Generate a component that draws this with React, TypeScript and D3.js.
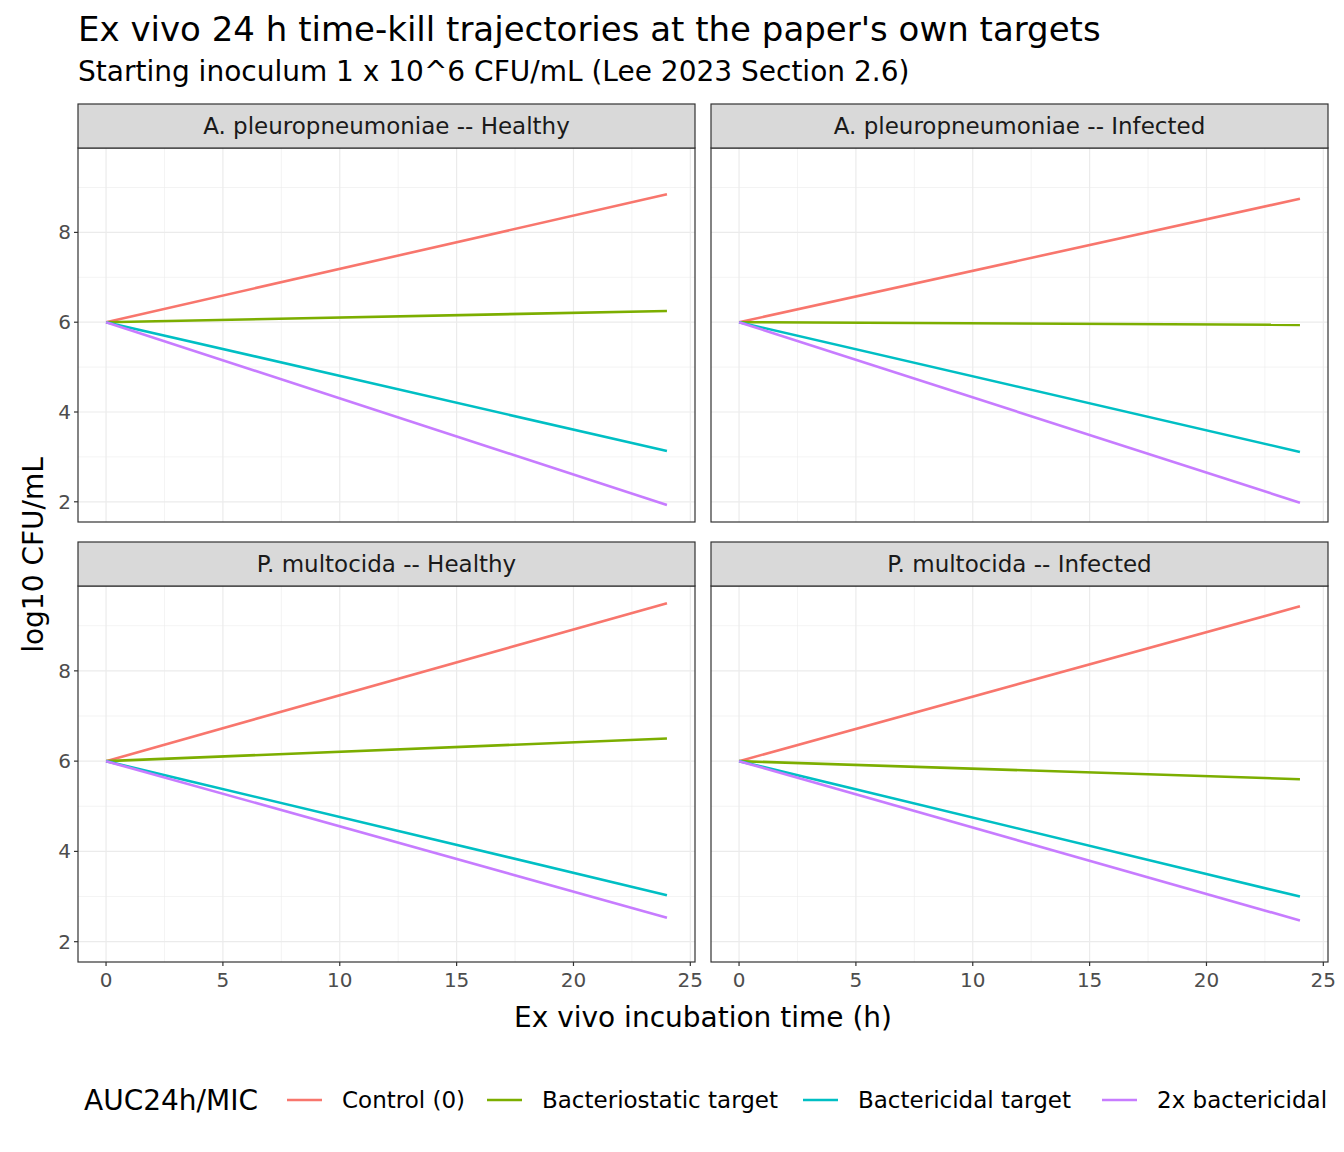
import React from 'react';
import * as d3 from 'd3';

const panels = [
  'A. pleuropneumoniae -- Healthy',
  'A. pleuropneumoniae -- Infected',
  'P. multocida -- Healthy',
  'P. multocida -- Infected',
];
const series = ['Control (0)', 'Bacteriostatic target', 'Bactericidal target', '2x bactericidal'];
const colors = ['#F8766D', '#7CAE00', '#00BFC4', '#C77CFF'];
const times = [0, 24];
// end values at 24 h per panel, per series (start at 6)
const endValues = [
  [8.85, 6.25, 3.13, 1.93],
  [8.75, 5.94, 3.11, 1.98],
  [9.5, 6.5, 3.03, 2.53],
  [9.43, 5.6, 3.0, 2.47],
];
const startValue = 6;
const xTicks = [0, 5, 10, 15, 20, 25];
const yTicks = [2, 4, 6, 8];

const font = 'DejaVu Sans, sans-serif';

const App: React.FC = () => {
  const cols = [[78, 695], [711, 1328]];
  const rows = [[104, 148, 522], [542, 586, 962]];
  return (
    <svg width={1344} height={1152} style={{ position: 'absolute', left: 0, top: 0, fontFamily: font }}>
      <rect width={1344} height={1152} fill="#fff" />
      <text x={78} y={41} fontSize={34} fill="#000">Ex vivo 24 h time-kill trajectories at the paper's own targets</text>
      <text x={78} y={81} fontSize={28} fill="#000">Starting inoculum 1 x 10^6 CFU/mL (Lee 2023 Section 2.6)</text>
      {panels.map((name, i) => {
        const [x0, x1] = cols[i % 2];
        const [s0, p0, p1] = rows[Math.floor(i / 2)];
        const x = d3.scaleLinear().domain([-1.2, 25.2]).range([x0, x1]);
        const y = d3.scaleLinear().domain([1.55, 9.88]).range([p1, p0]);
        const line = d3.line<[number, number]>().x(d => x(d[0])).y(d => y(d[1]));
        return (
          <g key={name}>
            {[2.5, 7.5, 12.5, 17.5, 22.5].map(v => (
              <line key={'mx' + v} x1={x(v)} x2={x(v)} y1={p0} y2={p1} stroke="#ebebeb" strokeWidth={0.6} />
            ))}
            {[3, 5, 7, 9].map(v => (
              <line key={'my' + v} x1={x0} x2={x1} y1={y(v)} y2={y(v)} stroke="#ebebeb" strokeWidth={0.6} />
            ))}
            {xTicks.map(v => (
              <line key={'gx' + v} x1={x(v)} x2={x(v)} y1={p0} y2={p1} stroke="#ebebeb" strokeWidth={1.2} />
            ))}
            {yTicks.map(v => (
              <line key={'gy' + v} x1={x0} x2={x1} y1={y(v)} y2={y(v)} stroke="#ebebeb" strokeWidth={1.2} />
            ))}
            {series.map((s, k) => (
              <path key={s} d={line(times.map((t, j) => [t, j === 0 ? startValue : endValues[i][k]]) as [number, number][]) || ''}
                fill="none" stroke={colors[k]} strokeWidth={2.6} />
            ))}
            <rect x={x0} y={p0} width={x1 - x0} height={p1 - p0} fill="none" stroke="#333" strokeWidth={1.2} />
            <rect x={x0} y={s0} width={x1 - x0} height={p0 - s0} fill="#d9d9d9" stroke="#333" strokeWidth={1.2} />
            <text x={(x0 + x1) / 2} y={(s0 + p0) / 2 + 8} textAnchor="middle" fontSize={23} fill="#1a1a1a">{name}</text>
            {i % 2 === 0 && yTicks.map(v => (
              <g key={'yt' + v}>
                <line x1={x0 - 4} x2={x0} y1={y(v)} y2={y(v)} stroke="#333" strokeWidth={1.2} />
                <text x={x0 - 7} y={y(v) + 7} textAnchor="end" fontSize={20} fill="#4d4d4d">{v}</text>
              </g>
            ))}
            {i >= 2 && xTicks.map(v => (
              <g key={'xt' + v}>
                <line x1={x(v)} x2={x(v)} y1={p1} y2={p1 + 4} stroke="#333" strokeWidth={1.2} />
                <text x={x(v)} y={p1 + 25} textAnchor="middle" fontSize={20} fill="#4d4d4d">{v}</text>
              </g>
            ))}
          </g>
        );
      })}
      <text x={703} y={1027} textAnchor="middle" fontSize={28} fill="#000">Ex vivo incubation time (h)</text>
      <text transform="translate(43,555) rotate(-90)" textAnchor="middle" fontSize={28} fill="#000">log10 CFU/mL</text>
      <text x={84} y={1110} fontSize={28} fill="#000">AUC24h/MIC</text>
      {series.map((s, k) => {
        const lx = [287, 487, 803, 1102][k];
        return (
          <g key={'lg' + s}>
            <line x1={lx} x2={lx + 35} y1={1100} y2={1100} stroke={colors[k]} strokeWidth={2.6} />
            <text x={lx + 55} y={1108} fontSize={23} fill="#000">{s}</text>
          </g>
        );
      })}
    </svg>
  );
};

export default App;
